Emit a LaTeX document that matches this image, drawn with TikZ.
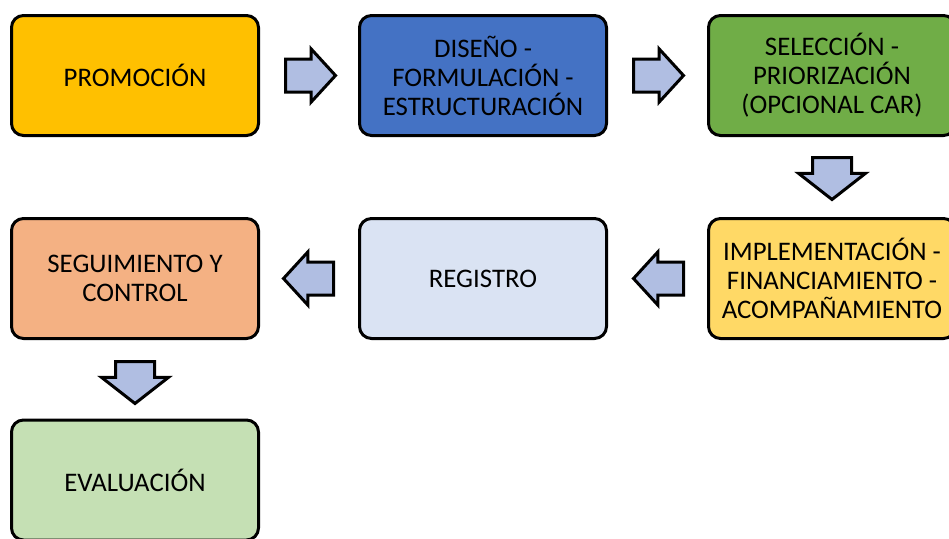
\documentclass[tikz,border=0pt]{standalone}
\usepackage{fontspec}
\setmainfont{Carlito}
\usepackage{xcolor}
\usepackage{tikz}
\usetikzlibrary{shapes,arrows,positioning,calc,arrows.meta}

\definecolor{promo}{HTML}{FFC000}
\definecolor{diseno}{HTML}{4472C4}
\definecolor{seleccion}{HTML}{70AD47}
\definecolor{implem}{HTML}{FFD966}
\definecolor{registro}{HTML}{DAE3F3}
\definecolor{seguim}{HTML}{F4B183}
\definecolor{evalua}{HTML}{C5E0B4}
\definecolor{flecha}{HTML}{B0BEE2}

\begin{document}
\begin{tikzpicture}[x=1pt, y=-1pt,
    etapa/.style={draw, line width=3pt, rounded corners=12pt, align=center,
        minimum width=247pt, minimum height=120pt, inner sep=2pt,
        font=\fontsize{26.8}{29}\selectfont},
    hflecha/.style={draw, line width=3pt, fill=flecha, single arrow, anchor=tail,
        single arrow head extend=10pt, single arrow tip angle=95,
        minimum height=50pt, inner xsep=0pt, inner ysep=15pt},
    vflecha/.style={draw, line width=3pt, fill=flecha, single arrow, anchor=tail,
        single arrow head extend=14pt, single arrow tip angle=104,
        minimum height=42pt, inner xsep=0pt, inner ysep=18pt, rotate=-90}]
    \useasboundingbox (0,0) rectangle (949,538);

    % Primera fila
    \node[etapa, fill=promo] (promo) at (135,75.5) {PROMOCIÓN};
    \node[etapa, fill=diseno] (diseno) at (483,75.5) {DISEÑO -\\FORMULACIÓN -\\ESTRUCTURACIÓN};
    \node[etapa, fill=seleccion] (selec) at (832,75.5) {SELECCIÓN -\\PRIORIZACIÓN\\(OPCIONAL CAR)};

    % Segunda fila
    \node[etapa, fill=seguim] (seguim) at (135,278.5) {SEGUIMIENTO Y\\CONTROL};
    \node[etapa, fill=registro] (regis) at (483,278.5) {REGISTRO};
    \node[etapa, fill=implem] (implem) at (832,278.5) {IMPLEMENTACIÓN -\\FINANCIAMIENTO -\\ACOMPAÑAMIENTO};

    % Tercera fila
    \node[etapa, fill=evalua] (evalua) at (135,480) {EVALUACIÓN};

    % Flechas de bloque
    \node[hflecha] (f1) at ($(promo.east)+(24,0)$) {};
    \node[hflecha] (f2) at ($(diseno.east)+(24,0)$) {};
    \node[vflecha] (f3) at ($(selec.south)+(0,19)$) {};
    \node[hflecha, rotate=180] (f4) at ($(implem.west)+(-22,0)$) {};
    \node[hflecha, rotate=180] (f5) at ($(regis.west)+(-23,0)$) {};
    \node[vflecha] (f6) at ($(seguim.south)+(0,20)$) {};
\end{tikzpicture}
\end{document}
